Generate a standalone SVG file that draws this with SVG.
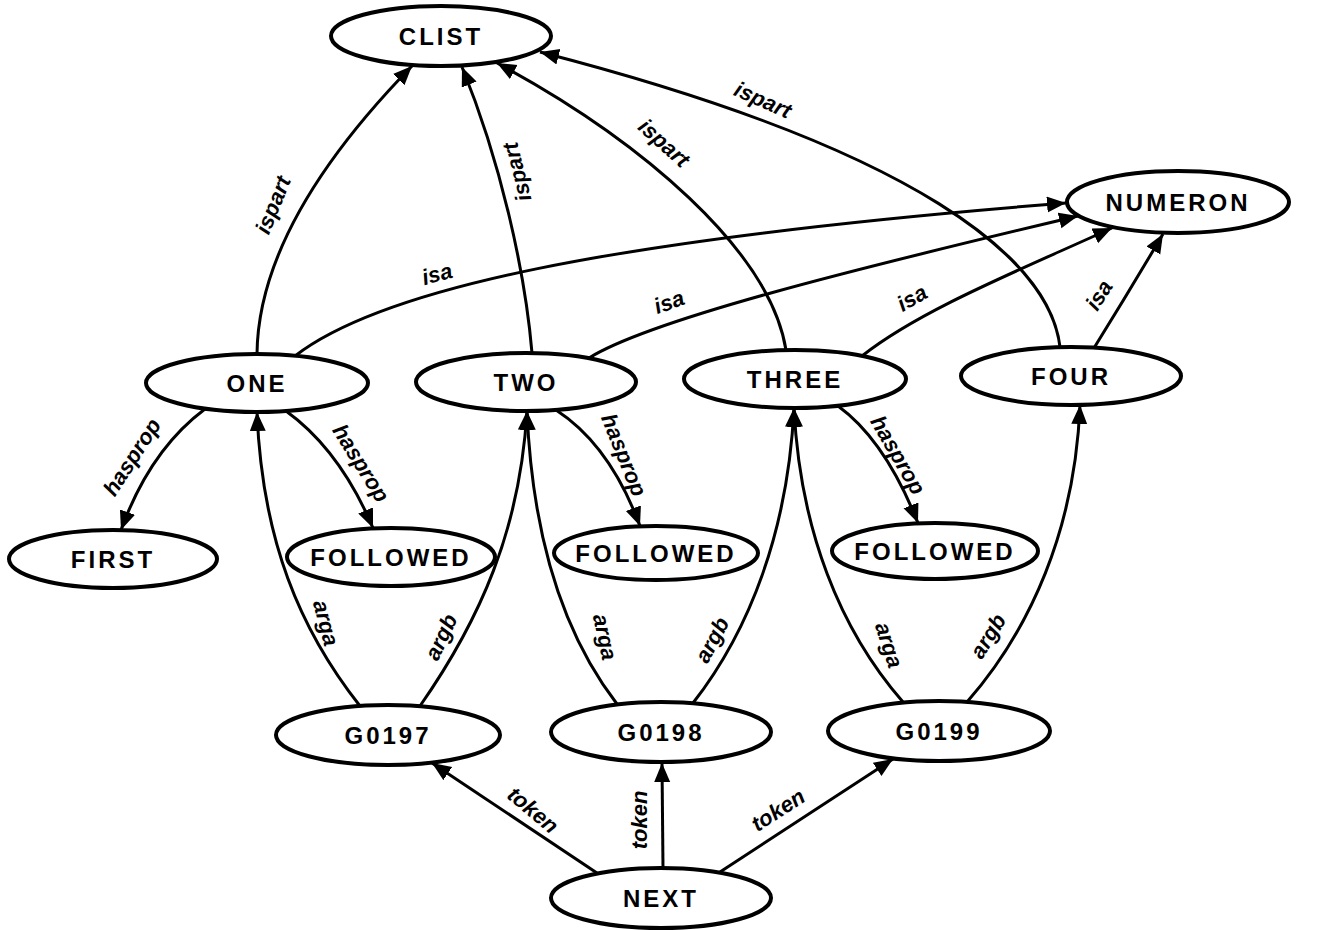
<svg xmlns="http://www.w3.org/2000/svg" width="1321" height="930" viewBox="0 0 1321 930">
  <style>
    .node ellipse { fill: #fff; stroke: #000; stroke-width: 4; }
    .node text { font-family: "Liberation Sans", Arial, sans-serif; font-weight: bold; font-size: 24px; letter-spacing: 3px; text-anchor: middle; dominant-baseline: central; fill: #000; }
    .edge { fill: none; stroke: #000; stroke-width: 3; marker-end: url(#arrow); }
    .lbl { font-family: "Liberation Sans", Arial, sans-serif; font-weight: bold; font-style: italic; font-size: 22px; text-anchor: middle; dominant-baseline: central; fill: #000; }
  </style>
  <defs>
    <!-- filled triangular arrowhead shared by every connector -->
    <marker id="arrow" markerUnits="userSpaceOnUse" markerWidth="22" markerHeight="18" refX="19" refY="8" orient="auto">
      <path d="M0,0 L19,8 L0,16 z" fill="#000"/>
    </marker>
  </defs>
  <rect width="1321" height="930" fill="#fff"/>

  <!-- connectors -->
  <g id="edges">
    <!-- ispart -->
    <path class="edge" d="M257,354 C258,250 330,150 412,66"/>
    <path class="edge" d="M532,353 C525,270 500,160 462,67"/>
    <path class="edge" d="M786,350 C770,250 640,140 497,63"/>
    <path class="edge" d="M1060,347 C1050,260 920,150 540,52"/>
    <!-- isa -->
    <path class="edge" d="M295,356 C380,290 600,240 1066,203"/>
    <path class="edge" d="M589,358 C650,320 850,270 1078,216"/>
    <path class="edge" d="M862,356 C920,310 1020,270 1112,228"/>
    <path class="edge" d="M1094,348 Q1130,290 1163,234"/>
    <!-- hasprop -->
    <path class="edge" d="M205,409 Q150,450 121,530"/>
    <path class="edge" d="M286,411 Q340,450 373,528"/>
    <path class="edge" d="M556,410 Q610,445 640,526"/>
    <path class="edge" d="M838,406 Q885,440 918,523"/>
    <!-- arga / argb -->
    <path class="edge" d="M360,706 C300,630 262,540 257,412"/>
    <path class="edge" d="M420,706 C480,620 520,530 527,411"/>
    <path class="edge" d="M617,704 C560,630 532,530 527,411"/>
    <path class="edge" d="M693,703 C750,630 788,530 794,408"/>
    <path class="edge" d="M903,702 C840,630 800,530 794,408"/>
    <path class="edge" d="M967,702 C1030,630 1075,530 1080,405"/>
    <!-- token -->
    <path class="edge" d="M597,873 L432,763"/>
    <path class="edge" d="M663,868 L662,763"/>
    <path class="edge" d="M720,872 L893,759"/>

    <!-- connector labels -->
    <text class="lbl" transform="translate(273,205) rotate(-68)">ispart</text>
    <text class="lbl" transform="translate(517,172) rotate(-104)">ispart</text>
    <text class="lbl" transform="translate(664,143) rotate(42)">ispart</text>
    <text class="lbl" transform="translate(763,100) rotate(24)">ispart</text>
    <text class="lbl" transform="translate(437,274) rotate(-15)">isa</text>
    <text class="lbl" transform="translate(669,302) rotate(-20)">isa</text>
    <text class="lbl" transform="translate(912,298) rotate(-30)">isa</text>
    <text class="lbl" transform="translate(1099,295) rotate(-58)">isa</text>
    <text class="lbl" transform="translate(132,457) rotate(-57)">hasprop</text>
    <text class="lbl" transform="translate(361,463) rotate(58)">hasprop</text>
    <text class="lbl" transform="translate(624,455) rotate(68)">hasprop</text>
    <text class="lbl" transform="translate(898,455) rotate(60)">hasprop</text>
    <text class="lbl" transform="translate(326,623) rotate(75)">arga</text>
    <text class="lbl" transform="translate(441,637) rotate(-65)">argb</text>
    <text class="lbl" transform="translate(605,637) rotate(78)">arga</text>
    <text class="lbl" transform="translate(712,640) rotate(-62)">argb</text>
    <text class="lbl" transform="translate(889,645) rotate(72)">arga</text>
    <text class="lbl" transform="translate(988,636) rotate(-58)">argb</text>
    <text class="lbl" transform="translate(533,810) rotate(40)">token</text>
    <text class="lbl" transform="translate(639,820) rotate(-90)">token</text>
    <text class="lbl" transform="translate(778,810) rotate(-33)">token</text>
  </g>

  <!-- nodes -->
  <g id="CLIST" class="node"><ellipse cx="441" cy="36" rx="110" ry="30"/><text x="441" y="36">CLIST</text></g>
  <g id="NUMERON" class="node"><ellipse cx="1178" cy="202" rx="111" ry="31"/><text x="1178" y="202">NUMERON</text></g>
  <g id="ONE" class="node"><ellipse cx="257" cy="383" rx="111" ry="29"/><text x="257" y="383">ONE</text></g>
  <g id="TWO" class="node"><ellipse cx="526" cy="382" rx="110" ry="29"/><text x="526" y="382">TWO</text></g>
  <g id="THREE" class="node"><ellipse cx="795" cy="379" rx="111" ry="29"/><text x="795" y="379">THREE</text></g>
  <g id="FOUR" class="node"><ellipse cx="1071" cy="376" rx="110" ry="29"/><text x="1071" y="376">FOUR</text></g>
  <g id="FIRST" class="node"><ellipse cx="113" cy="559" rx="104" ry="29"/><text x="113" y="559">FIRST</text></g>
  <g id="FOLLOWED1" class="node"><ellipse cx="391" cy="557" rx="104" ry="29"/><text x="391" y="557">FOLLOWED</text></g>
  <g id="FOLLOWED2" class="node"><ellipse cx="656" cy="553" rx="102" ry="27"/><text x="656" y="553">FOLLOWED</text></g>
  <g id="FOLLOWED3" class="node"><ellipse cx="935" cy="551" rx="103" ry="28"/><text x="935" y="551">FOLLOWED</text></g>
  <g id="G0197" class="node"><ellipse cx="388" cy="735" rx="112" ry="30"/><text x="388" y="735">G0197</text></g>
  <g id="G0198" class="node"><ellipse cx="661" cy="732" rx="110" ry="30"/><text x="661" y="732">G0198</text></g>
  <g id="G0199" class="node"><ellipse cx="939" cy="731" rx="111" ry="30"/><text x="939" y="731">G0199</text></g>
  <g id="NEXT" class="node"><ellipse cx="661" cy="898" rx="110" ry="30"/><text x="661" y="898">NEXT</text></g>
</svg>
